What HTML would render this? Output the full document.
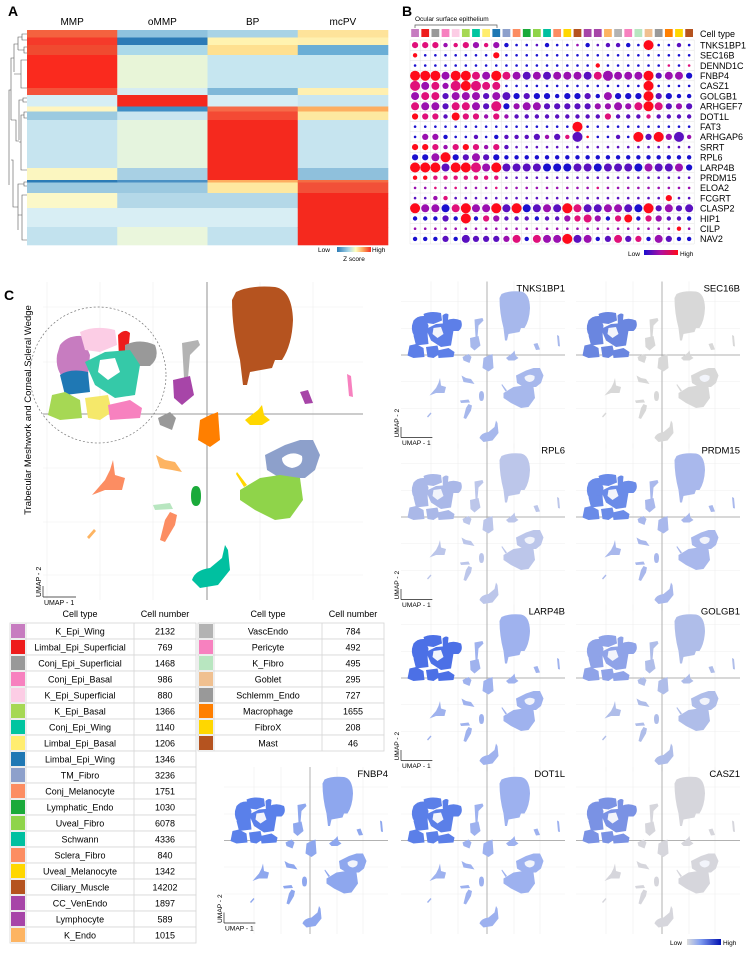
<!DOCTYPE html>
<html><head><meta charset="utf-8">
<style>
html,body{margin:0;padding:0;background:#fff;}
svg{display:block;font-family:"Liberation Sans",Arial,sans-serif;}
</style></head>
<body>
<svg id="fig" width="755" height="955" viewBox="0 0 755 955" xmlns="http://www.w3.org/2000/svg">
<defs>
<linearGradient id="zg" x1="0" x2="1"><stop offset="0" stop-color="#2c7bb6"/><stop offset="0.35" stop-color="#abd9e9"/><stop offset="0.55" stop-color="#ffffbf"/><stop offset="0.75" stop-color="#fdae61"/><stop offset="1" stop-color="#f42a1e"/></linearGradient>
<linearGradient id="dg" x1="0" x2="1"><stop offset="0" stop-color="#1a0fcf"/><stop offset="0.5" stop-color="#b010a0"/><stop offset="1" stop-color="#ff0a1a"/></linearGradient>
<linearGradient id="fg" x1="0" x2="1"><stop offset="0" stop-color="#dcdcdc"/><stop offset="0.4" stop-color="#7f9cf0"/><stop offset="1" stop-color="#0010b0"/></linearGradient>
</defs>
<g id="panelA">
<text x="8" y="16" font-size="14" font-weight="bold">A</text>
</g>
<g id="panelB">
<text x="402" y="16" font-size="14" font-weight="bold">B</text>
<text x="415" y="21" font-size="6.5">Ocular surface epithelium</text>
<path d="M415,28 V25 H497 V28" fill="none" stroke="#555" stroke-width="0.7"/>
<text x="700" y="37" font-size="9">Cell type</text>
<text x="628" y="256" font-size="6.5">Low</text>
<rect x="644" y="250" width="34" height="5" fill="url(#dg)"/>
<text x="680" y="256" font-size="6.5">High</text>
</g>
<g id="panelC">
<text x="4" y="300" font-size="14" font-weight="bold">C</text>
</g>
<g id="features"></g>
<g id="tables"></g>
<text x="670" y="945" font-size="6.5">Low</text>
<rect x="687" y="939" width="34" height="6" fill="url(#fg)"/>
<text x="723" y="945" font-size="6.5">High</text>
</svg>
<script>
const NS="http://www.w3.org/2000/svg";
function mk(tag,attrs,parent){const e=document.createElementNS(NS,tag);for(const k in attrs)e.setAttribute(k,attrs[k]);if(parent)parent.appendChild(e);return e;}

// ---------- Panel A data ----------
const heatColumns=["MMP","oMMP","BP","mcPV"];
const heatBandEdges=[30,37.5,45,55,88,95,106.5,111.5,120,168,180,182.5,193,208,227,245];
const heatMMP  =["#f4623f","#f53a2a","#f04a30","#fa2a1e","#f4523a","#d6eef5","#fff5c0","#9ccae0","#c6e4ef","#fbf6c0","#2c7bb6","#9cc9e0","#fbf8c8","#d8eef4","#c2e2ee"];
const heatOMMP =["#8fc3de","#2c7bb6","#abd9e9","#e8f5d8","#d6ecf2","#f5291e","#3f8fc5","#c9e6f0","#e5f4de","#a8d0e4","#4a90c4","#9cc9e0","#b4d8e8","#d8eef4","#eaf6dc"];
const heatBP   =["#a8d3e6","#fff3b0","#fee090","#c6e6f0","#7fb8d8","#d6eef5","#f66a48","#f44a34","#f5291e","#f5291e","#fdae61","#fee8a0","#b4d8e8","#d8eef4","#c2e2ee"];
const heatMCPV =["#fee39a","#fff0b0","#6aaed6","#c6e6f0","#fff0b0","#c9e6f0","#fdae61","#fde8a0","#c6e4ef","#8fc0dc","#f46d43","#f25038","#f5291e","#f5291e","#f5291e"];
(function(){
 const g=document.getElementById('panelA');
 const cols=[heatMMP,heatOMMP,heatBP,heatMCPV];
 const x0=27,cw=90.25;
 heatColumns.forEach((c,ci)=>{
  const t=mk('text',{x:x0+cw*ci+cw/2,y:25,'font-size':10,'text-anchor':'middle'},g);t.textContent=c;
  
  
  for(let i=0;i<heatBandEdges.length-1;i++){
   const r=mk('rect',{x:x0+cw*ci,y:heatBandEdges[i],width:cw+0.3,height:heatBandEdges[i+1]-heatBandEdges[i]+0.3,fill:cols[ci][i]},g);
   
   
  }
 });
 // dendrogram
 const d="M27,34H22V40H27M22,37H18V50M27,47H24V53H27M24,50H18M18,44H14V72M27,60H21V88H27M21,74H14M14,58H11V120M27,98H23V102H27M23,100H19V140M27,112H24V118H27M24,115H21V170H27M21,142H19M19,141H16V120H11M27,182H24V186H27M24,184H18V230M27,195H22V240H27M22,215H18M18,207H13V160H11M11,90H9V185";
 const p=mk('path',{d:d,fill:'none',stroke:'#555','stroke-width':0.6},g);
 
 
 const l1=mk('text',{x:318,y:252,'font-size':6.5},g);l1.textContent='Low';
 
 
 const gb=mk('rect',{x:337,y:247,width:34,height:5,fill:'url(#zg)'},g);
 
 
 const l2=mk('text',{x:372,y:252,'font-size':6.5},g);l2.textContent='High';
 
 
 const l3=mk('text',{x:354,y:261,'font-size':6.5,'text-anchor':'middle'},g);l3.textContent='Z score';
 
 
})();

// ---------- Cell types ----------
const cellTypes1=["K_Epi_Wing","Limbal_Epi_Superficial","Conj_Epi_Superficial","Conj_Epi_Basal","K_Epi_Superficial","K_Epi_Basal","Conj_Epi_Wing","Limbal_Epi_Basal","Limbal_Epi_Wing","TM_Fibro","Conj_Melanocyte","Lymphatic_Endo","Uveal_Fibro","Schwann","Sclera_Fibro","Uveal_Melanocyte","Ciliary_Muscle","CC_VenEndo","Lymphocyte","K_Endo"];
const cellCounts1=[2132,769,1468,986,880,1366,1140,1206,1346,3236,1751,1030,6078,4336,840,1342,14202,1897,589,1015];
const cellColors1=["#c77cc0","#ee1c1c","#999999","#f781bf","#fccde5","#a6d854","#00c5a0","#ffed6f","#1f78b4","#8da0cb","#fc8d62","#1aaa3a","#8fd44a","#00c0a0","#fc8d62","#ffd700","#b5531f","#a745a8","#a745a8","#fdb462"];
const cellTypes2=["VascEndo","Pericyte","K_Fibro","Goblet","Schlemm_Endo","Macrophage","FibroX","Mast"];
const cellCounts2=[784,492,495,295,727,1655,208,46];
const cellColors2=["#b3b3b3","#f781bf","#b8e6c0","#f0c090","#999999","#ff7f00","#ffd700","#b5531f"];

// ---------- Panel B data ----------
const dotGenes=["TNKS1BP1","SEC16B","DENND1C","FNBP4","CASZ1","GOLGB1","ARHGEF7","DOT1L","FAT3","ARHGAP6","SRRT","RPL6","LARP4B","PRDM15","ELOA2","FCGRT","CLASP2","HIP1","CILP","NAV2"];
const dotSizes=[
"2221122121000100010111040010",
"1000000020000000000000000000",
"0000000000000000001000000000",
"4443443343333333333433342332",
"4332444330000000000000040000",
"3332333233222212221322242211",
"3332333242233222222232343222",
"2221322121111111111211111111",
"0000000000000000400000000000",
"0221001011112121400010424241",
"2221222121000000000000000000",
"2234223221111111111111111111",
"4443444343333333333333333332",
"1111111110000000000000000000",
"0000000000000000000000000000",
"0011000000000000000000000200",
"4333343343433334333333342323",
"1112141221111112232123122111",
"0000000000000000000000000010",
"1112132222313334331232213211"];
const dotColors=[
"3332332320001000201110040010",
"4000000040000000000000000000",
"0000000000000000004000000303",
"4442443243212122213222241220",
"3232343330000000000000040000",
"2331222121010000010200041000",
"3221332130222111112222343121",
"4331433232111111111311131111",
"0000000000000000400000000000",
"0220001001111213140010414212",
"4432343231111111111111111111",
"0024012100000000000000000000",
"4441443241111000110111021120",
"4433333331111111111111111111",
"2232322232222222223222222222",
"1123111111111111111111111411",
"4220342241401214311221041211",
"0001040321110112332034032110",
"2222222222222222222222222242",
"0001011112303224120131302100"];
const dotPalette=["#1a0fcf","#5a10c0","#9a10b0","#e0107a","#ff0a1a"];
const dotRadius=[1.3,2.2,3.1,4.0,5.0];
(function(){
 const g=document.getElementById('panelB');
 const x0=410,cw=10.15,y0=40,rh=10.2,n=28;
 const xs=i=>x0+cw*i+cw/2, ys=j=>y0+rh*j+rh/2;
 // grid
 for(let i=0;i<=n;i++){const l=mk('line',{x1:x0+cw*i,x2:x0+cw*i,y1:y0,y2:y0+rh*20,stroke:'#e2e2e2','stroke-width':0.5},g);
  
  }
 for(let j=0;j<=20;j++){const l=mk('line',{x1:x0,x2:x0+cw*n,y1:y0+rh*j,y2:y0+rh*j,stroke:'#e2e2e2','stroke-width':0.5},g);
  
  }
 const allColors=cellColors1.concat(cellColors2);
 allColors.forEach((c,i)=>{const r=mk('rect',{x:x0+cw*i+1.2,y:29,width:cw-2.4,height:8,fill:c},g);
  
  });
 dotGenes.forEach((gn,j)=>{
  const t=mk('text',{x:700,y:ys(j)+3.3,'font-size':9},g);t.textContent=gn;
  
  
  for(let i=0;i<n;i++){
   const s=+dotSizes[j][i], c=+dotColors[j][i];
   const d=mk('circle',{cx:xs(i),cy:ys(j),r:dotRadius[s],fill:dotPalette[c]},g);
   
   
  }
 });
})();

// ---------- UMAP cluster shapes ----------
const umapClusters=[
["#b5531f","M236,292 Q250,285 275,287 Q292,290 293,320 Q292,345 282,360 L275,360 L272,368 L250,372 L247,385 L243,385 L240,360 Q232,330 232,300 Z"],
["#c77cc0","M60,345 Q68,335 82,336 L90,355 L88,375 L65,380 Q55,370 57,355 Z"],
["#fccde5","M80,332 Q95,325 115,330 L117,345 L100,352 L85,350 Z"],
["#ee1c1c","M118,335 Q125,328 130,333 L128,355 L119,358 Z"],
["#999999","M125,345 Q140,338 155,345 Q160,358 150,366 L135,366 L125,360 Z"],
["#35c9a8","M85,362 L105,352 L130,350 L140,365 L135,395 L115,398 L95,385 Z"],
["#1f78b4","M60,375 Q70,368 88,372 L90,392 L65,395 Z"],
["#a6d854","M52,395 L65,392 L80,400 L82,418 L60,420 L48,415 Z"],
["#f5e86a","M85,398 L108,395 L112,412 L100,420 L88,418 Z"],
["#f781bf","M108,405 L130,400 L142,408 L140,418 L110,420 Z"],
["#b3b3b3","M182,343 L198,340 L200,345 L190,355 L188,378 L184,378 Z"],
["#a745a8","M173,380 L190,376 L194,395 L182,405 L174,398 Z"],
["#999999","M158,418 L170,412 L176,418 L172,430 L160,425 Z"],
["#ff7f00","M200,420 L210,415 L218,412 L220,440 L210,447 L198,440 Z"],
["#ffd700","M245,420 L258,410 L262,405 L264,415 L270,420 L262,425 L250,425 Z"],
["#a745a8","M300,392 L308,390 L313,403 L305,404 Z"],
["#f781bf","M347,374 L351,376 L353,397 L349,396 Z"],
["#8da0cb","M265,455 L285,445 L300,440 L313,440 L320,455 L315,470 L305,478 L280,478 L267,470 Z"],
["#8fd44a","M240,490 L260,478 L280,475 L300,478 L303,500 L290,518 L275,520 L255,510 L240,500 Z"],
["#ffd700","M237,472 L247,485 L244,487 L236,474 Z"],
["#fdb462","M156,455 L165,460 L175,462 L182,472 L172,470 L160,468 Z"],
["#fc8d62","M92,495 L105,480 L110,470 L113,460 L115,475 L125,478 L122,490 L105,490 Z"],
["#1aaa3a","M191,496 Q191,486 196,486 Q201,486 201,496 Q201,506 196,506 Q191,506 191,496 Z"],
["#b8e6c0","M153,505 L170,503 L173,509 L155,510 Z"],
["#fc8d62","M160,540 L165,520 L170,512 L177,515 L175,525 L165,542 Z"],
["#fdb462","M87,537 L94,529 L96,531 L89,539 Z"],
["#00c0a0","M192,580 Q195,570 210,568 L222,558 L225,545 L228,550 L230,570 L218,585 L200,588 Z"]
];
const umapHoles=["M100,360 L115,358 L120,372 L108,380 L98,372 Z","M282,458 Q292,450 302,456 Q304,466 292,468 Q282,466 282,458 Z"];

function drawUmap(g,fillFn,holeFill){
 umapClusters.forEach((c,i)=>{const p=mk('path',{d:c[1],fill:fillFn(c[0],i)},g);
  
  });
 umapHoles.forEach((h,i)=>{const p=mk('path',{d:h,fill:holeFill},g);
  
  });
}
function gridAndAxes(g,x0,x1,y0,y1,vx,hy,gx,gy,sw){
 gx.forEach(x=>{const l=mk('line',{x1:x,x2:x,y1:y0,y2:y1,stroke:'#efefef','stroke-width':0.6},g);});
 gy.forEach(y=>{const l=mk('line',{x1:x0,x2:x1,y1:y,y2:y,stroke:'#efefef','stroke-width':0.6},g);});
 const a=mk('line',{x1:vx,x2:vx,y1:y0,y2:y1,stroke:'#aaa','stroke-width':sw},g);
 const b=mk('line',{x1:x0,x2:x1,y1:hy,y2:hy,stroke:'#999','stroke-width':sw*0.8},g);
}
function umapArrows(g,x,y,s){
 const p=mk('path',{d:`M${x},${y} V${y-11*s} M${x},${y} H${x+33*s}`,stroke:'#222','stroke-width':0.7,fill:'none'},g);
 
 const t1=mk('text',{x:x+1,y:y+7*s+1,'font-size':7*s},g);t1.textContent='UMAP - 1';
 
 const t2=mk('text',{x:0,y:0,'font-size':7*s,transform:`translate(${x-2},${y}) rotate(-90)`},g);t2.textContent='UMAP - 2';
 
}
(function(){
 const g=document.getElementById('panelC');
 gridAndAxes(g,43,363,282,600,207,414,[47,100,153,260,313],[307,362,468,522,575],1.3);
 drawUmap(g,c=>c,'#fff');
 const c=mk('circle',{cx:98,cy:375,r:68,fill:'none',stroke:'#777','stroke-width':0.7,'stroke-dasharray':'2,2'},g);
 
 const t=mk('text',{x:0,y:0,'font-size':9.5,'text-anchor':'middle',transform:'translate(31,410) rotate(-90)'},g);
 t.textContent='Trabecular Meshwork and Corneal Scleral Wedge';
 
 umapArrows(g,43,597,1);
})();

// ---------- Feature plots ----------
const featureGenes=["TNKS1BP1","SEC16B","RPL6","PRDM15","LARP4B","GOLGB1","FNBP4","DOT1L","CASZ1"];
const featureBase=["#a7b8ec","#d8d8d8","#bcc6ea","#a9b8ec","#9fb2ee","#afbde9","#8ea7ee","#9db1ef","#d6d6dc"];
const featureEpi=["#5d7fe8","#6a86e0","#aab8e8","#6a8be8","#4c70e6","#8fa3e8","#5a80ea","#5b7fe8","#7a92e4"];
(function(){
 const g=document.getElementById('features');
 const pos=[[405,291.5,1],[580,291.5,0],[405,453.5,1],[580,453.5,0],[405,614.5,1],[580,614.5,0],[228,777,1],[405,777,0],[580,777,0]];
 featureGenes.forEach((gn,k)=>{
  const [fx,fy,ax]=pos[k];
  const pg=mk('g',{},g);
  
  
  gridAndAxes(pg,fx-4,fx+160,fy-10,fy+157,fx+82,fy+63.5,[fx+26,fx+53,fx+109,fx+135],[fx>0?fy+10:0,fy+37,fy+90,fy+117].filter(v=>v),0.9);
  const inner=mk('g',{transform:`translate(${fx},${fy}) scale(0.5) translate(-43,-287)`},pg);
  
  drawUmap(inner,(c,i)=>(i>=1&&i<=9)?featureEpi[k]:featureBase[k],'#f2f4fb');
  const t=mk('text',{x:fx+160,y:fy,'font-size':9.5,'text-anchor':'end'},pg);t.textContent=gn;
  
  if(ax) umapArrows(pg,fx-4,fy+146,0.95);
 });
})();

// ---------- Tables ----------
(function(){
 const g=document.getElementById('tables');
 function table(names,counts,colors,xs,xn,xc,xe,prefix){
  const y0=623,rh=16;
  const h1=mk('text',{x:(xn+xc)/2,y:617,'font-size':9,'text-anchor':'middle'},g);h1.textContent='Cell type';
  
  const h2=mk('text',{x:(xc+xe)/2,y:617,'font-size':9,'text-anchor':'middle'},g);h2.textContent='Cell number';
  
  names.forEach((n,i)=>{
   const y=y0+rh*i;
   const r=mk('rect',{x:xs,y:y,width:xe-xs,height:rh,fill:'#fff',stroke:'#d6d6d6','stroke-width':0.8},g);
   
   const s=mk('rect',{x:xs+1,y:y+1,width:xn-xs-2,height:rh-2,fill:colors[i]},g);
   
   [xn,xc].forEach(x=>{const l=mk('line',{x1:x,x2:x,y1:y,y2:y+rh,stroke:'#d6d6d6','stroke-width':0.8},g);});
   const t=mk('text',{x:(xn+xc)/2,y:y+11.5,'font-size':9,'text-anchor':'middle'},g);t.textContent=n;
   
   const c=mk('text',{x:(xc+xe)/2,y:y+11.5,'font-size':9,'text-anchor':'middle'},g);c.textContent=counts[i];
   
  });
 }
 table(cellTypes1,cellCounts1,cellColors1,10,26,134,196,'table1');
 table(cellTypes2,cellCounts2,cellColors2,198,214,322,384,'table2');
})();
</script>
</body></html>
